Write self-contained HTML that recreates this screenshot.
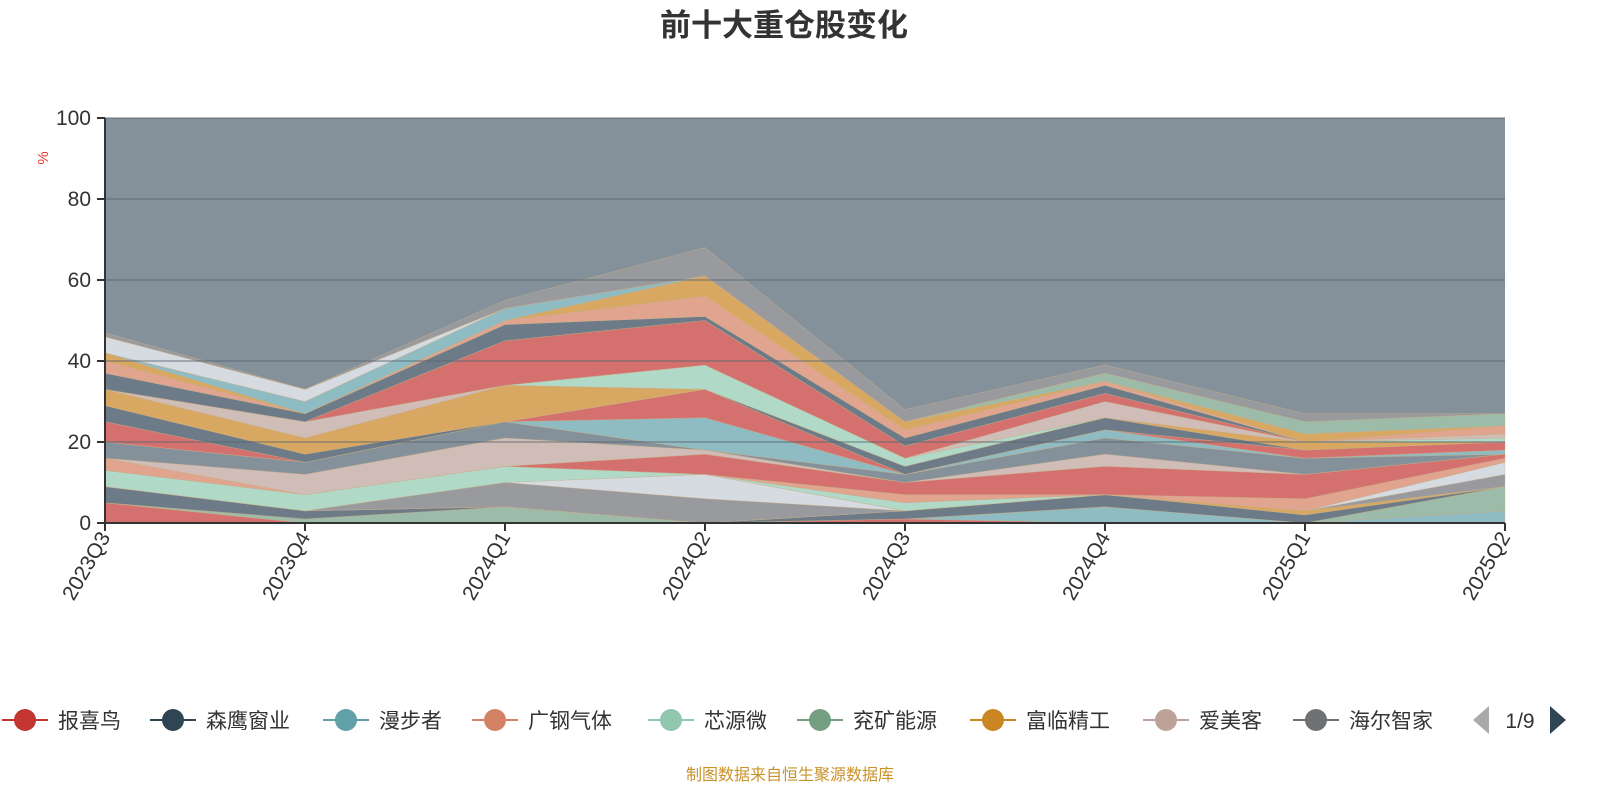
<!DOCTYPE html>
<html><head><meta charset="utf-8">
<style>
body{margin:0;background:#fff;font-family:"Liberation Sans","Noto Sans CJK SC",sans-serif;}
svg text{font-family:"Liberation Sans","Noto Sans CJK SC",sans-serif;}
</style></head>
<body>
<svg id="chart" width="1600" height="800" xmlns="http://www.w3.org/2000/svg">
<text x="784" y="36" text-anchor="middle" font-size="31" font-weight="bold" fill="#333">前十大重仓股变化</text>
<rect x="105" y="118" width="1400" height="405" fill="#85919a"/>
<g id="areas"></g>
<g id="grid"></g>
<g id="axes"></g>
<text x="48" y="158" font-size="15" fill="#e33" transform="rotate(-90 48 158)" text-anchor="middle">%</text>
<g id="legend"></g>
<text x="790" y="780" text-anchor="middle" font-size="16" fill="#c8922a">制图数据来自恒生聚源数据库</text>
</svg>
<script>
const categories=["2023Q3","2023Q4","2024Q1","2024Q2","2024Q3","2024Q4","2025Q1","2025Q2"];
const yTicks=[0,20,40,60,80,100];
const layerColors=["#d4706d","#8fbbc2","#9cbba8","#6c7b87","#d8a862","#999a9e","#d6dbe1","#b0d9c8","#e0a48f","#d4706d","#d1bdb7","#85919a","#8fbbc2","#d4706d","#6c7b87","#d8a862","#b0d9c8","#d1bdb7","#d4706d","#6c7b87","#e0a48f","#d8a862","#8fbbc2","#d6dbe1","#9cbba8","#999a9e"];
const s1=[5,0,0,0,1,0,0,0];
const s2=[0,0,0,0,0,4,0,3];
const s3=[0,1,4,0,0,0,0,6];
const s4=[4,2,0,0,2,3,2,0];
const s5=[0,0,0,0,0,0,1,0];
const s6=[0,0,6,6,0,0,0,3];
const s7=[0,0,0,6,0,0,0,3];
const s8=[4,4,4,0,2,0,0,0];
const s9=[3,0,0,0,2,0,3,1];
const s10=[0,0,0,5,3,7,6,1];
const s11=[0,5,7,1,0,3,0,0];
const s12=[4,3,4,0,2,4,4,0];
const s13=[0,0,0,8,0,2,0,1];
const s14=[5,0,0,7,0,0,2,2];
const s15=[4,2,0,0,2,3,0,0];
const s16=[4,4,9,0,0,0,2,0];
const s17=[0,0,0,6,2,0,0,1];
const s18=[0,4,0,0,0,4,0,1];
const s19=[0,0,11,11,3,2,0,0];
const s20=[4,2,4,1,2,2,0,0];
const s21=[3,0,1,5,2,1,0,2];
const s22=[2,0,0,5,2,0,2,0];
const s23=[0,3,3,0,0,0,0,0];
const s24=[4,3,0,0,0,0,0,0];
const s25=[0,0,0,0,0,2,3,3];
const s26=[1,0,2,7,3,2,2,0];
const series=[s1,s2,s3,s4,s5,s6,s7,s8,s9,s10,s11,s12,s13,s14,s15,s16,s17,s18,s19,s20,s21,s22,s23,s24,s25,s26];
const legendNames=["报喜鸟","森鹰窗业","漫步者","广钢气体","芯源微","兖矿能源","富临精工","爱美客","海尔智家"];
const legendColors=["#c23531","#2f4554","#61a0a8","#d48265","#91c7ae","#749f83","#ca8622","#bda29a","#6e7074"];

const NS="http://www.w3.org/2000/svg";
const X0=105,X1=1505,Y0=523,Y1=118;
const xs=i=>X0+i*(X1-X0)/(categories.length-1);
const ys=v=>Y0-v*(Y0-Y1)/100;
function mk(tag,attrs,parent){const e=document.createElementNS(NS,tag);for(const k in attrs)e.setAttribute(k,attrs[k]);parent.appendChild(e);return e;}

const areas=document.getElementById('areas');
let base=categories.map(()=>0);
series.forEach((s,si)=>{
  const top=base.map((b,i)=>b+s[i]);
  let d="M"+categories.map((c,i)=>xs(i)+","+ys(top[i])).join(" L");
  for(let i=categories.length-1;i>=0;i--) d+=" L"+xs(i)+","+ys(base[i]);
  d+=" Z";
  const p=mk('path',{d:d,fill:layerColors[si],stroke:"#c9b08a","stroke-width":"0.6","stroke-opacity":"0.6"},areas);
  
  
  base=top;
});

const grid=document.getElementById('grid');
const axes=document.getElementById('axes');
yTicks.forEach(t=>{
  if(t>0){const l=mk('line',{x1:X0,x2:X1,y1:ys(t),y2:ys(t),stroke:"#5a6870","stroke-opacity":"0.45","stroke-width":"2"},grid);
  
  }
  const tk=mk('line',{x1:X0-8,x2:X0,y1:ys(t),y2:ys(t),stroke:"#333","stroke-width":"2"},axes);
  
  
  const tx=mk('text',{x:X0-14,y:ys(t)+7,"text-anchor":"end","font-size":"21",fill:"#333"},axes);
  tx.textContent=t;
  
  
});
const ya=mk('line',{x1:X0,x2:X0,y1:Y1,y2:Y0,stroke:"#333","stroke-width":"2"},axes);


const xa=mk('line',{x1:X0,x2:X1,y1:Y0,y2:Y0,stroke:"#333","stroke-width":"2"},axes);


categories.forEach((c,i)=>{
  const tk=mk('line',{x1:xs(i),x2:xs(i),y1:Y0,y2:Y0+8,stroke:"#333","stroke-width":"2"},axes);
  
  
  const x=xs(i)+6,y=Y0+14;
  const tx=mk('text',{x:x,y:y,"text-anchor":"end","font-size":"21",fill:"#333",transform:`rotate(-60 ${x} ${y})`},axes);
  tx.textContent=c;
  
  
});

const legend=document.getElementById('legend');
const lx=[2,150,323,472,648,797,970,1143,1293];
legendNames.forEach((n,i)=>{
  const g=mk('g',{},legend);
  
  
  mk('line',{x1:lx[i],x2:lx[i]+46,y1:720,y2:720,stroke:legendColors[i],"stroke-width":"2"},g);
  mk('circle',{cx:lx[i]+23,cy:720,r:11,fill:legendColors[i]},g);
  const t=mk('text',{x:lx[i]+56,y:728,"font-size":"21",fill:"#333"},g);
  t.textContent=n;
});
const prev=mk('polygon',{points:"1473,720 1489,706 1489,734",fill:"#aaa"},legend);


const pg=mk('text',{x:1520,y:728,"text-anchor":"middle","font-size":"21",fill:"#333"},legend);
pg.textContent="1/9";


const nxt=mk('polygon',{points:"1566,720 1550,706 1550,734",fill:"#2f4554"},legend);


</script>
</body></html>
